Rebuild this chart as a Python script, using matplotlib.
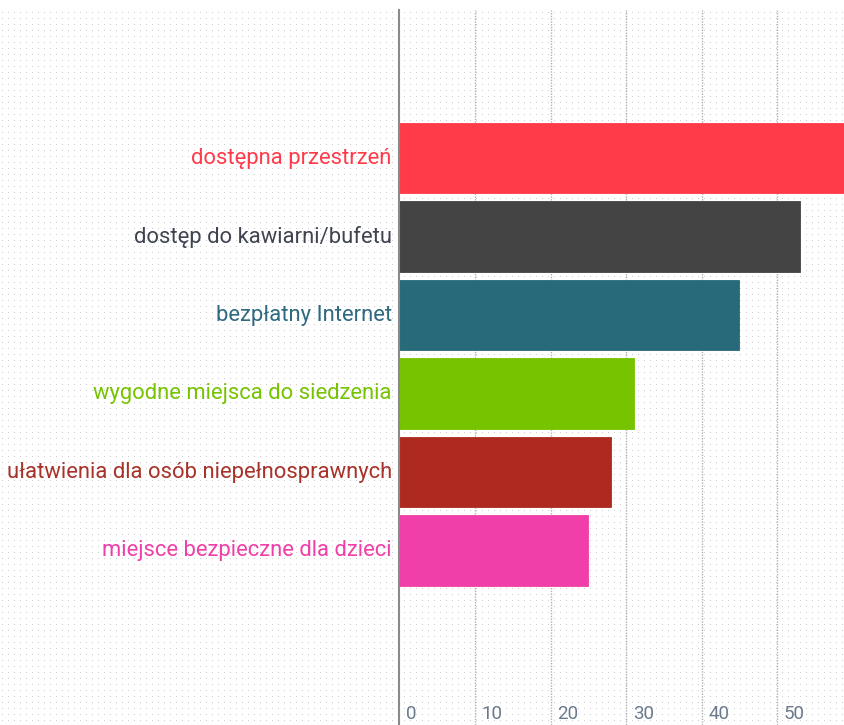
import matplotlib
matplotlib.use('Agg')
import matplotlib.pyplot as plt
import matplotlib.transforms as mtransforms
import numpy as np

# data
categories = ['dostępna przestrzeń', 'dostęp do kawiarni/bufetu', 'bezpłatny Internet',
              'wygodne miejsca do siedzenia', 'ułatwienia dla osób niepełnosprawnych',
              'miejsce bezpieczne dla dzieci']
values = [60, 53, 45, 31, 28, 25]
bar_colors = ['#FF3B4A', '#444444', '#286A7A', '#76C400', '#AE2A20', '#F03FA8']
label_colors = ['#FF3B4A', '#3F4450', '#2F6A80', '#76C400', '#A8322A', '#F03FA8']
tick_values = [0, 10, 20, 30, 40, 50]

W, H = 845, 725
fig = plt.figure(figsize=(W / 100, H / 100), dpi=100)
fig.patch.set_facecolor('white')

# dotted background texture
bg = np.ones((H, W, 4))
bg[..., 3] = 0.0
dots = np.zeros((H, W), dtype=bool)
dots[12::6, 2::6] = True
bg[dots] = [0.80, 0.80, 0.80, 1.0]
fig.figimage(bg, xo=0, yo=0, origin='upper', zorder=0)

font = ['Roboto', 'DejaVu Sans']

top_px = 10
ax = fig.add_axes([399.5 / W, 0, 1 - 399.5 / W, (H - top_px) / H])
ax.set_zorder(2)
ax.patch.set_alpha(0)

y = np.arange(len(categories))
ax.barh(y, values, height=0.9, color=bar_colors, zorder=3,
        edgecolor=bar_colors, linewidth=0.6)

ax.set_xlim(0, 59)
ax.set_ylim(len(categories) - 1 + 2.22, -1.885)

for s in ['top', 'right', 'bottom']:
    ax.spines[s].set_visible(False)
ax.spines['left'].set_color('#8a8a8a')
ax.spines['left'].set_linewidth(1.5)
ax.spines['left'].set_zorder(4)

for v in tick_values[1:]:
    ax.axvline(v, color='#b0b0b0', linestyle=(0, (1, 1)), linewidth=1, zorder=1)

ax.set_xticks([])
ax.set_yticks([])

trans = mtransforms.blended_transform_factory(ax.transData, ax.transAxes)
for v in tick_values:
    ax.text(v + 0.9, 0.003, str(v), transform=trans, ha='left', va='bottom',
            fontsize=13.5, color='#6a7a8c', family=font)

for yi, (lab, col) in enumerate(zip(categories, label_colors)):
    ax.annotate(lab, xy=(0, yi), xycoords='data', xytext=(-5.5, 0),
                textcoords='offset points', ha='right', va='center',
                fontsize=15.8, color=col, family=font, annotation_clip=False)

fig.savefig('out.png', dpi=100, facecolor='white')
